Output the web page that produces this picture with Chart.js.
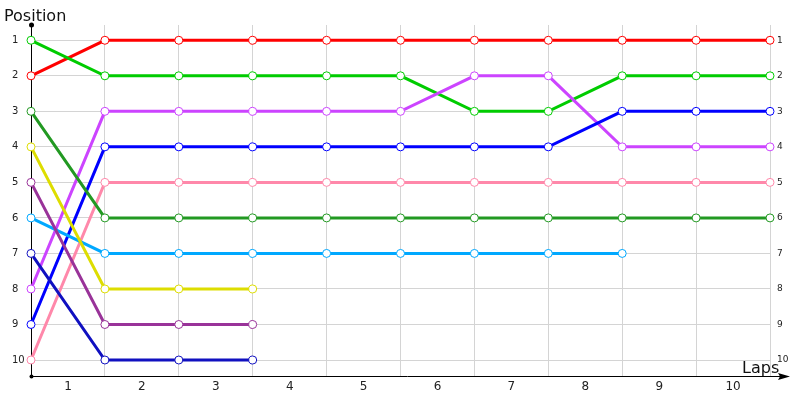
<!DOCTYPE html>
<html>
<head>
<meta charset="utf-8">
<script src="https://cdn.jsdelivr.net/npm/chart.js@4/dist/chart.umd.min.js"></script>
<style>
  html, body { margin: 0; padding: 0; background: #fff; }
  #wrap { width: 800px; height: 400px; }
</style>
</head>
<body>
<div id="wrap"><canvas id="lapChart"></canvas></div>
<script>
// laps (grid positions) and positions
const laps = [0, 1, 2, 3, 4, 5, 6, 7, 8, 9, 10];
const positions = [1, 2, 3, 4, 5, 6, 7, 8, 9, 10];

// position of each car per lap
const redCar       = [2, 1, 1, 1, 1, 1, 1, 1, 1, 1, 1];
const greenCar     = [1, 2, 2, 2, 2, 2, 3, 3, 2, 2, 2];
const violetCar    = [8, 3, 3, 3, 3, 3, 2, 2, 4, 4, 4];
const blueCar      = [9, 4, 4, 4, 4, 4, 4, 4, 3, 3, 3];
const pinkCar      = [10, 5, 5, 5, 5, 5, 5, 5, 5, 5, 5];
const darkGreenCar = [3, 6, 6, 6, 6, 6, 6, 6, 6, 6, 6];
const skyCar       = [6, 7, 7, 7, 7, 7, 7, 7, 7];
const yellowCar    = [4, 8, 8, 8];
const purpleCar    = [5, 9, 9, 9];
const navyCar      = [7, 10, 10, 10];

const cars = [
    { data: navyCar,      color: "#1010c0" },
    { data: purpleCar,    color: "#993399" },
    { data: yellowCar,    color: "#dddd00" },
    { data: skyCar,       color: "#00a8ff" },
    { data: darkGreenCar, color: "#229922" },
    { data: pinkCar,      color: "#ff88aa" },
    { data: blueCar,      color: "#0000ff" },
    { data: violetCar,    color: "#cc44ff" },
    { data: greenCar,     color: "#00cc00" },
    { data: redCar,       color: "#ff0000" }
];

const font = "'DejaVu Sans', Verdana, sans-serif";

// axis lines, arrow and the two titles
const axesPlugin = {
    id: "axesPlugin",
    beforeDatasetsDraw(chart) {
        const ctx = chart.ctx;
        const a = chart.chartArea;
        ctx.save();
        ctx.strokeStyle = "#000";
        ctx.fillStyle = "#000";
        ctx.lineWidth = 1;
        ctx.beginPath();
        ctx.moveTo(a.left + 0.5, a.top);
        ctx.lineTo(a.left + 0.5, a.bottom);
        ctx.moveTo(a.left, a.bottom + 0.5);
        ctx.lineTo(a.right + 14, a.bottom + 0.5);
        ctx.stroke();
        // arrow head
        ctx.beginPath();
        ctx.moveTo(a.right + 20, a.bottom + 0.5);
        ctx.lineTo(a.right + 8, a.bottom - 3);
        ctx.lineTo(a.right + 10, a.bottom + 0.5);
        ctx.lineTo(a.right + 8, a.bottom + 4);
        ctx.closePath();
        ctx.fill();
        // dots
        ctx.beginPath();
        ctx.arc(a.left + 0.5, a.top, 2.5, 0, Math.PI * 2);
        ctx.fill();
        ctx.beginPath();
        ctx.arc(a.left + 0.5, a.bottom + 0.5, 2, 0, Math.PI * 2);
        ctx.fill();
        ctx.restore();
    },
    afterDraw(chart) {
        const ctx = chart.ctx;
        ctx.save();
        ctx.fillStyle = "#111";
        ctx.font = "16px " + font;
        ctx.textBaseline = "alphabetic";
        ctx.textAlign = "left";
        ctx.fillText("Position", 4, 21);
        ctx.fillText("Laps", 742, 373);
        ctx.restore();
    }
};

new Chart(document.getElementById("lapChart"), {
    type: "line",
    data: {
        datasets: cars.map(c => ({
            data: c.data.map((v, i) => ({ x: laps[i], y: v })),
            borderColor: c.color,
            borderWidth: 3,
            pointRadius: 4,
            pointBorderWidth: 1,
            pointBackgroundColor: "#fff",
            pointBorderColor: c.color,
            tension: 0,
            clip: false
        }))
    },
    options: {
        responsive: true,
        maintainAspectRatio: false,
        animation: false,
        layout: { padding: { left: 12, top: 25, right: 0, bottom: 0 } },
        plugins: {
            legend: { display: false },
            tooltip: { enabled: false }
        },
        scales: {
            x: {
                type: "linear",
                min: 0,
                max: 10,
                afterBuildTicks: s => { s.ticks = laps.map(v => ({ value: v })); },
                afterFit: s => { s.height = 24; },
                border: { display: false },
                grid: { color: "#d4d4d4", drawTicks: false },
                ticks: {
                    padding: 4,
                    labelOffset: 37,
                    color: "#222",
                    font: { family: font, size: 12 },
                    callback: v => (v < 10 ? String(v + 1) : "")
                }
            },
            y: {
                type: "linear",
                reverse: true,
                min: 0.57,
                max: 10.45,
                afterBuildTicks: s => { s.ticks = positions.map(v => ({ value: v })); },
                afterFit: s => { s.width = 19; },
                border: { display: false },
                grid: { color: "#d4d4d4", drawTicks: false },
                ticks: {
                    crossAlign: "far",
                    color: "#222",
                    font: { family: font, size: 10 },
                    callback: v => String(v)
                }
            },
            y2: {
                type: "linear",
                position: "right",
                reverse: true,
                min: 0.57,
                max: 10.45,
                afterBuildTicks: s => { s.ticks = positions.map(v => ({ value: v })); },
                afterFit: s => { s.width = 30; },
                border: { display: false },
                grid: { display: false, drawTicks: false },
                ticks: {
                    padding: 7,
                    color: "#222",
                    font: { family: font, size: 9 },
                    callback: v => String(v)
                }
            }
        }
    },
    plugins: [axesPlugin]
});
</script>
</body>
</html>
